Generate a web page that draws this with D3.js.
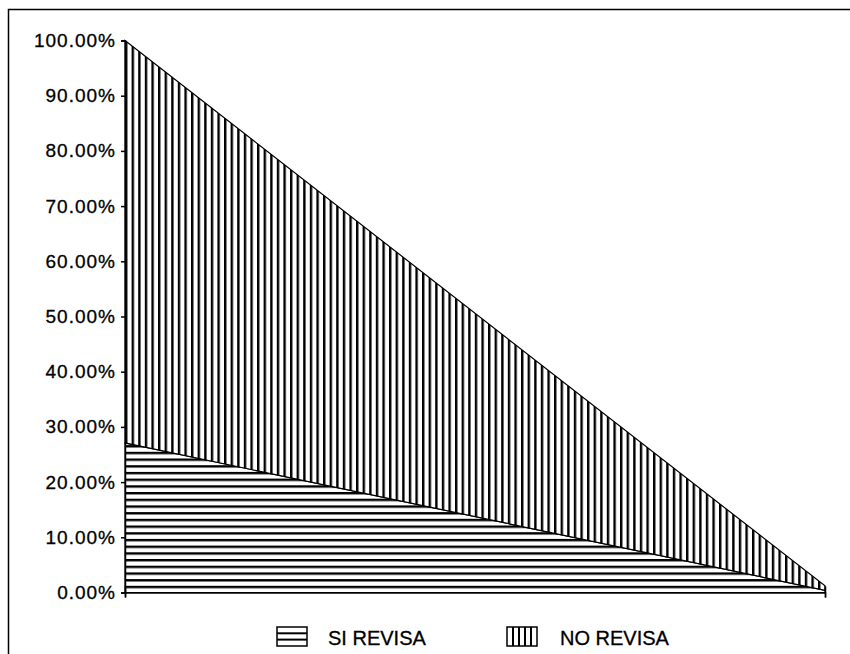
<!DOCTYPE html>
<html>
<head>
<meta charset="utf-8">
<script src="https://cdn.jsdelivr.net/npm/d3@7"></script>
<style>
  body { margin: 0; background: #fff; }
  text { font-family: "Liberation Sans", Arial, sans-serif; fill: #000; }
</style>
</head>
<body>
<svg></svg>
<script>
const categories = ["inicio", "fin"];
const siRevisa = [27.1, 0.4];
const noRevisa = [72.9, 0.8];
const yTicks = [0, 10, 20, 30, 40, 50, 60, 70, 80, 90, 100];
const seriesNames = ["SI REVISA", "NO REVISA"];

const width = 850;
const height = 654;
const svg = d3.select("svg").attr("width", width).attr("height", height);

// plot box
const plotLeft = 125, plotRight = 825, plotTop = 40.5, plotBottom = 592.5;

const rows = categories.map((c, i) => ({ cat: c, si: siRevisa[i], no: noRevisa[i] }));
const stacked = d3.stack().keys(["si", "no"])(rows);

const xScale = d3.scalePoint().domain(categories).range([plotLeft, plotRight]);
const yScale = d3.scaleLinear().domain([0, 100]).range([plotBottom, plotTop]);

// hatch patterns
const defs = svg.append("defs");
const hp = defs.append("pattern").attr("id", "hatchH")
  .attr("patternUnits", "userSpaceOnUse").attr("width", 20).attr("height", 6.7)
  .attr("y", plotBottom);
hp.append("rect").attr("width", 20).attr("height", 6.7).attr("fill", "#fff");
hp.append("rect").attr("y", 0).attr("width", 20).attr("height", 2.4).attr("fill", "#000");

const vp = defs.append("pattern").attr("id", "hatchV")
  .attr("patternUnits", "userSpaceOnUse").attr("width", 6.6).attr("height", 20)
  .attr("x", plotLeft);
vp.append("rect").attr("width", 6.6).attr("height", 20).attr("fill", "#fff");
vp.append("rect").attr("x", 0).attr("width", 2.4).attr("height", 20).attr("fill", "#000");

const fills = ["url(#hatchH)", "url(#hatchV)"];

// outer frame (only left and top edges are visible in the scan)
svg.append("path")
  .attr("d", "M8.5,654 L8.5,9.5 L850,9.5")
  .attr("fill", "none").attr("stroke", "#000").attr("stroke-width", 1.5);

const area = d3.area()
  .x((d) => xScale(d.data.cat))
  .y0((d) => yScale(d[0]))
  .y1((d) => yScale(d[1]));

svg.selectAll("path.area")
  .data(stacked)
  .enter()
  .append("path")
  .attr("class", "area")
  .attr("d", area)
  .attr("fill", (d, i) => fills[i])
  .attr("stroke", "#000")
  .attr("stroke-width", 1.2);

// axes
const yAxis = d3.axisLeft(yScale)
  .tickValues(yTicks)
  .tickSize(4)
  .tickPadding(5)
  .tickFormat((d) => d.toFixed(2) + "%");

const gy = svg.append("g")
  .attr("transform", "translate(" + plotLeft + ",0)")
  .call(yAxis);
gy.select(".domain").attr("stroke", "#000").attr("stroke-width", 1.5);
gy.selectAll(".tick line").attr("stroke", "#000").attr("stroke-width", 1.5);
gy.selectAll(".tick text")
  .style("font-size", "19px")
  .style("letter-spacing", "1px")
  .style("font-family", "'Liberation Sans', Arial, sans-serif")
  .attr("fill", "#000")
  .attr("stroke", "#000")
  .attr("stroke-width", 0.3);

const xAxis = d3.axisBottom(xScale).tickSize(5).tickFormat("");
const gx = svg.append("g")
  .attr("transform", "translate(0," + plotBottom + ")")
  .call(xAxis);
gx.select(".domain").attr("stroke", "#000").attr("stroke-width", 1.5);
gx.selectAll(".tick line").attr("stroke", "#000").attr("stroke-width", 1.5)
  .attr("y1", -6);

// legend
const legendX = [277, 507];
const legend = svg.selectAll("g.legend")
  .data(seriesNames)
  .enter()
  .append("g")
  .attr("class", "legend")
  .attr("transform", (d, i) => "translate(" + legendX[i] + ",627)");

legend.append("rect")
  .attr("width", 30).attr("height", 19)
  .attr("fill", "#fff").attr("stroke", "#000").attr("stroke-width", 1.5);

legend.each(function (d, i) {
  const g = d3.select(this);
  if (i === 0) {
    [6.3, 12.6].forEach((y) => {
      g.append("line").attr("x1", 0).attr("x2", 30).attr("y1", y).attr("y2", y)
        .attr("stroke", "#000").attr("stroke-width", 2);
    });
  } else {
    [6, 12, 18, 24].forEach((x) => {
      g.append("line").attr("x1", x).attr("x2", x).attr("y1", 0).attr("y2", 19)
        .attr("stroke", "#000").attr("stroke-width", 2);
    });
  }
});

legend.append("text")
  .attr("x", (d, i) => (i === 0 ? 51 : 53))
  .attr("y", 18)
  .style("font-size", "20px")
  .attr("stroke", "#000")
  .attr("stroke-width", 0.3)
  .text((d) => d);
</script>
</body>
</html>
